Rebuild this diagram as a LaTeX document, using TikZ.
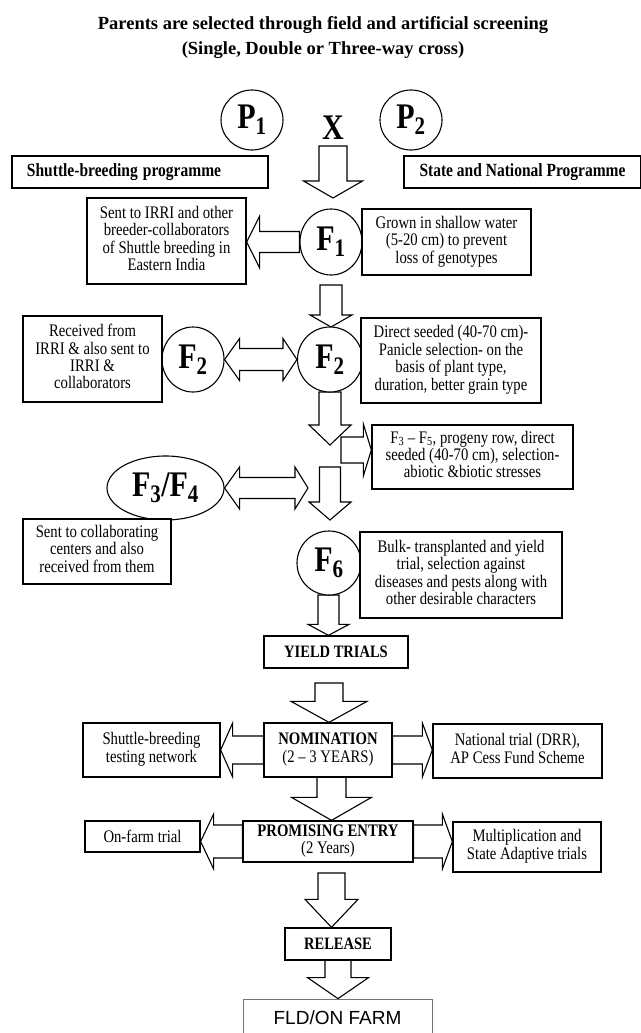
\documentclass[tikz,border=0pt]{standalone}
\usepackage{fontspec}
\usepackage{graphicx}
\setmainfont{Liberation Serif}
\newfontfamily\sansf{Liberation Sans}
\usetikzlibrary{shapes.geometric,calc,backgrounds}
\tikzset{
  bx/.style={draw, line width=1.3pt, fill=white, align=center, inner sep=0pt,
    font=\fontsize{14.7}{14.2}\selectfont},
  bbx/.style={bx, font=\bfseries\fontsize{14.5}{14.2}\selectfont},
  circ/.style={draw, ellipse, line width=1.1pt, fill=white, inner sep=0pt,
    font=\bfseries\fontsize{30}{30}\selectfont},
  blk/.style={draw, line width=1.1pt, fill=white, line join=miter},
}
% vertically stretched text block (the reference font is tall and narrow)
\newcommand\tx[1]{\scalebox{1}[1.2]{\begin{tabular}{@{}c@{}}#1\end{tabular}}}
\newcommand\tl[1]{\scalebox{1}[1.2]{#1}}
% vertical block arrow: start (x,top), tip point (its y), shaft half, head half, head length
\newcommand\blkv[5]{\path[blk] let \p1=#1, \p2=#2 in
  (\x1-#3pt,\y1) -- (\x1-#3pt,\y2+#5pt) -- (\x1-#4pt,\y2+#5pt) -- (\x1,\y2)
  -- (\x1+#4pt,\y2+#5pt) -- (\x1+#3pt,\y2+#5pt) -- (\x1+#3pt,\y1) -- cycle;}
% left block arrow
\newcommand\blkl[5]{\path[blk] let \p1=#1, \p2=#2 in
  (\x1,\y1-#3pt) -- (\x2+#5pt,\y1-#3pt) -- (\x2+#5pt,\y1-#4pt) -- (\x2,\y1)
  -- (\x2+#5pt,\y1+#4pt) -- (\x2+#5pt,\y1+#3pt) -- (\x1,\y1+#3pt) -- cycle;}
% right block arrow
\newcommand\blkr[5]{\path[blk] let \p1=#1, \p2=#2 in
  (\x1,\y1-#3pt) -- (\x2-#5pt,\y1-#3pt) -- (\x2-#5pt,\y1-#4pt) -- (\x2,\y1)
  -- (\x2-#5pt,\y1+#4pt) -- (\x2-#5pt,\y1+#3pt) -- (\x1,\y1+#3pt) -- cycle;}
% double block arrow: left tip, right tip, shaft half, head half, left head len, right head len
\newcommand\blkd[6]{\path[blk] let \p1=#1, \p2=#2 in
  (\x1,\y1) -- (\x1+#5pt,\y1+#4pt) -- (\x1+#5pt,\y1+#3pt) -- (\x2-#6pt,\y1+#3pt)
  -- (\x2-#6pt,\y1+#4pt) -- (\x2,\y1) -- (\x2-#6pt,\y1-#4pt) -- (\x2-#6pt,\y1-#3pt)
  -- (\x1+#5pt,\y1-#3pt) -- (\x1+#5pt,\y1-#4pt) -- cycle;}

\begin{document}
\begin{tikzpicture}[x=1pt,y=-1pt]
\useasboundingbox (0,0) rectangle (640,1033);

% title
\node[font=\bfseries\fontsize{18.5}{25}\selectfont, align=center] (title) at (323,37.5)
  {Parents are selected through field and artificial screening\\(Single, Double or Three-way cross)};

% parents
\node[circ, minimum width=62, minimum height=60] (P1) at (252,120) {\tl{P\textsubscript{1}}};
\node[circ, minimum width=62, minimum height=60] (P2) at (411,120) {\tl{P\textsubscript{2}}};
\node[font=\bfseries\fontsize{30}{30}\selectfont, inner sep=0pt] (X) at (333,128) {\tl{X}};

% programme boxes
\node[bx, font=\bfseries\fontsize{15.5}{15}\selectfont, text width=226, align=left,
  inner xsep=15pt, minimum height=32] (shuttle) at (140,172) {\tl{Shuttle-breeding programme}};
\node[bx, font=\bfseries\fontsize{15.5}{15}\selectfont, minimum width=237, minimum height=32]
  (state) at (522.5,172) {\tl{State and National Programme}};

% F1 row
\node[circ, minimum width=62, minimum height=66] (F1) at (331,242) {\tl{F\textsubscript{1}}};
\node[bx, minimum width=159, minimum height=86] (sent) at (166.5,241)
  {\tx{Sent to IRRI and other\\breeder-collaborators\\of Shuttle breeding in\\Eastern India}};
\node[bx, minimum width=169, minimum height=66] (grown) at (446.5,242)
  {\tx{Grown in shallow water\\(5-20 cm) to prevent\\loss of genotypes}};

% F2 row
\node[circ, minimum width=65, minimum height=65] (F2) at (330,359.5) {\tl{F\textsubscript{2}}};
\node[circ, minimum width=62, minimum height=65] (F2b) at (193,359.5) {\tl{F\textsubscript{2}}};
\node[bx, minimum width=139, minimum height=86] (recv) at (92.5,359)
  {\tx{Received from\\IRRI \& also sent to\\IRRI \&\\collaborators}};
\node[bx, minimum width=180, minimum height=85] (direct) at (451,360.5)
  {\tx{Direct seeded (40-70 cm)-\\Panicle selection- on the\\basis of plant type,\\duration, better grain type}};

% F3-F5
\node[bx, minimum width=201, minimum height=64] (f35) at (472.5,457)
  {\tx{F\textsubscript{3} -- F\textsubscript{5}, progeny row, direct\\seeded (40-70 cm), selection-\\abiotic \&biotic stresses}};
\node[circ, minimum width=117, minimum height=64] (F34) at (165.5,488)
  {\tl{F\textsubscript{3}/F\textsubscript{4}}};
\node[bx, minimum width=148, minimum height=65] (collab) at (97,551.5)
  {\tx{Sent to collaborating\\centers and also\\received from them}};

% F6
\node[circ, minimum width=64, minimum height=64] (F6) at (329,563) {\tl{F\textsubscript{6}}};
\node[bx, minimum width=202, minimum height=86] (bulk) at (461,575)
  {\tx{Bulk- transplanted and yield\\trial, selection against\\diseases and pests along with\\other desirable characters}};

% trials
\node[bbx, minimum width=144, minimum height=32] (yield) at (336,652) {\tl{YIELD TRIALS}};
\node[bx, minimum width=128, minimum height=54] (nom) at (328,750)
  {\tx{\textbf{NOMINATION}\\(2 -- 3 YEARS)}};
\node[bx, minimum width=137, minimum height=54] (shtest) at (151.5,750)
  {\tx{Shuttle-breeding\\testing network}};
\node[bx, minimum width=169, minimum height=54] (natl) at (517.5,751)
  {\tx{National trial (DRR),\\AP Cess Fund Scheme}};
\node[bx, minimum width=170, minimum height=41] (prom) at (328,841.5)
  {\tx{\textbf{PROMISING ENTRY}\\(2 Years)}};
\node[bx, minimum width=115, minimum height=31] (onfarm) at (142.5,836.5) {\tl{On-farm trial}};
\node[bx, minimum width=148, minimum height=50] (mult) at (527,847)
  {\tx{Multiplication and\\State Adaptive trials}};
\node[bbx, minimum width=106, minimum height=32] (rel) at (338,944) {\tl{RELEASE}};
\node[draw=black!55, line width=0.8pt, fill=white, minimum width=189, minimum height=42,
  inner sep=0pt] (fld) at (337.5,1020) {};
\node[font=\sansf\fontsize{19}{20}\selectfont, inner sep=0pt] (fldt) at (337.5,1018) {FLD/ON FARM};

\begin{pgfonlayer}{background}
\fill[white] (0,0) rectangle (640,1033);
\blkv{(333,146)}{(333,198)}{14}{29.5}{17}
\blkl{(F1.west)}{(sent.east)}{10.5}{26}{13}
\blkv{(331,285)}{(331,327)}{11}{21}{12}
\blkd{(F2b.east)}{(F2.west)}{11}{21}{15}{14}
\blkv{(330,392)}{(330,445)}{11}{21}{20}
\blkr{(341,450)}{(f35.west)}{13}{26}{8}
\blkv{(330,467)}{(330,520)}{10.5}{21}{18}
\blkd{(F34.east)}{(308,488)}{10.5}{21}{15}{13}
\blkv{(328.5,595)}{(yield.north)}{10.5}{20.5}{11}
\blkv{(329,683)}{(nom.north)}{14}{38}{21}
\blkl{(nom.west)}{(shtest.east)}{14}{27}{12}
\blkr{(nom.east)}{(natl.west)}{14}{27}{10}
\blkv{(331.5,777)}{(prom.north)}{14.5}{40}{23}
\blkl{(prom.west)}{(onfarm.east)}{16.5}{27.5}{13}
\blkr{(prom.east)}{(mult.west)}{16.5}{27.5}{10}
\blkv{(331.5,873)}{(rel.north)}{13.5}{26.5}{28}
\blkv{(338,960)}{(fld.north)}{13}{30.5}{21}
\end{pgfonlayer}
\end{tikzpicture}
\end{document}
